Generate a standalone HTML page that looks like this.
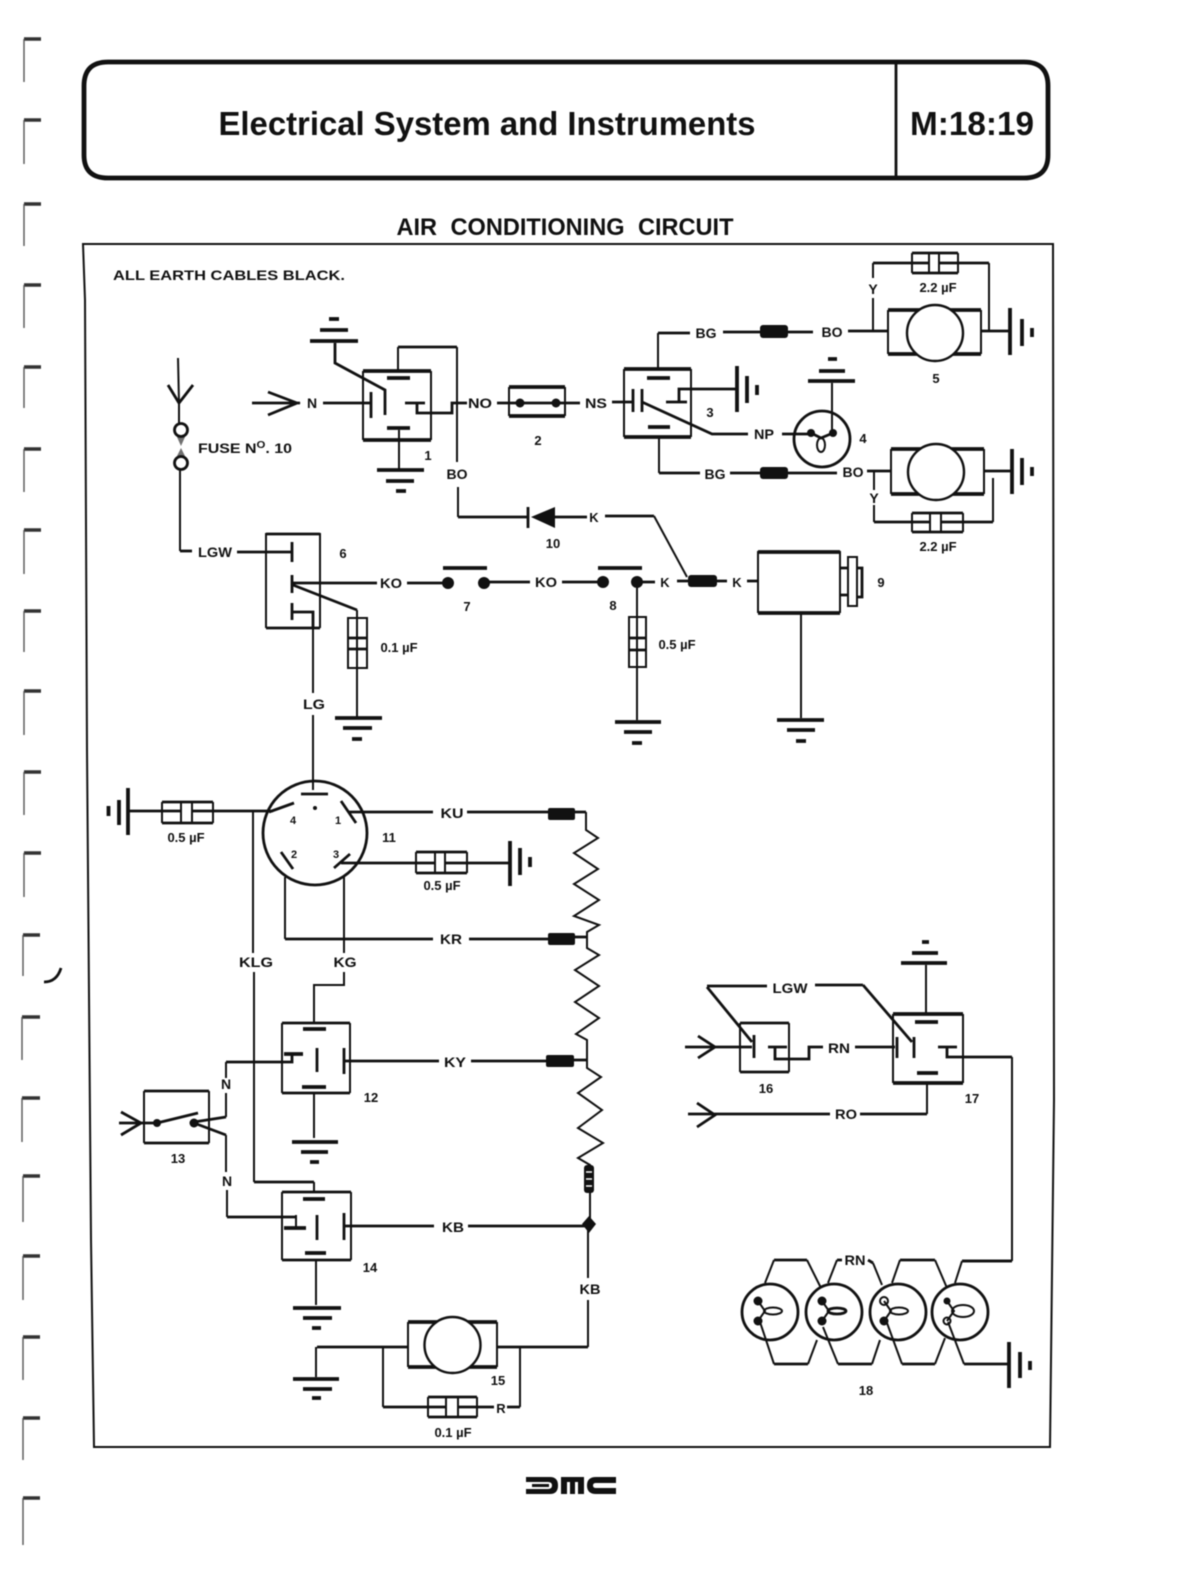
<!DOCTYPE html>
<html><head><meta charset="utf-8"><title>Air Conditioning Circuit</title>
<style>
html,body{margin:0;padding:0;background:#fff}
svg{display:block;filter:blur(.6px)}
text{font-family:"Liberation Sans",sans-serif;font-weight:700;fill:#111;text-anchor:middle;font-size:14px}
.w{fill:none;stroke:#111;stroke-width:2;stroke-linejoin:miter}
.m{fill:none;stroke:#111;stroke-width:2.8}
.t{fill:none;stroke:#111;stroke-width:3.8}
.b{fill:#111;stroke:none}
.g{fill:none;stroke:#555;stroke-width:1.4}
.gb{fill:none;stroke:#333;stroke-width:3.6}
.n{font-size:13px}
.box{fill:#fff;stroke:#111;stroke-width:2}
</style></head><body>
<svg xmlns="http://www.w3.org/2000/svg" width="1204" height="1582" viewBox="0 0 1204 1582">
<rect width="1204" height="1582" fill="#fff"/>

<!-- margin punch marks -->
<g>
<path class="gb" d="M24 39H41M24 120H41M24 204H41M24 285H41M24 367H41M24 449H41M24 530H41M24 611H41M24 691H41M24 772H41M24 853H41M23 935H40M22 1017H40M22 1098H40M23 1176H40M23 1256H40M23 1337H40M23 1418H40M23 1498H40"/>
<path class="g" d="M24 39V82M24 120V164M24 204V246M24 285V328M24 367V408M24 449V492M24 530V574M24 611V652M24 691V735M24 772V815M24 853V897M23 935V976M22 1017V1060M22 1098V1142M23 1176V1222M23 1256V1300M23 1337V1380M23 1418V1460M23 1498V1545"/>
<path class="m" d="M61 968C58 978 52 982 44 982" stroke-width="2"/>
</g>

<!-- header -->
<path d="M108 62H1024Q1048 62 1048 86V155Q1048 178 1024 178H108Q84 178 84 155V86Q84 62 108 62Z" fill="none" stroke="#111" stroke-width="4.8"/>
<path class="m" d="M896 62V178"/>
<text x="487" y="135" style="font-size:33px" textLength="537" lengthAdjust="spacingAndGlyphs">Electrical System and Instruments</text>
<text x="972" y="135" style="font-size:33px" textLength="124" lengthAdjust="spacingAndGlyphs">M:18:19</text>
<text x="565" y="235" style="font-size:24px;word-spacing:7px" textLength="337" lengthAdjust="spacingAndGlyphs">AIR CONDITIONING CIRCUIT</text>

<!-- frame -->
<path class="w" d="M83 244L1053 244L1054 1100L1050 1447L94 1447L91 1240L87 750L85 300Z"/>
<text x="229" y="280" style="font-size:14px" textLength="232" lengthAdjust="spacingAndGlyphs">ALL EARTH CABLES BLACK.</text>

<!-- fuse 10 -->
<path class="w" d="M178 358L179 403M180 470V551"/>
<path class="m" d="M168 385L179 403L193 385"/>
<path class="w" d="M179 403V424"/>
<circle class="m" cx="181" cy="430" r="6.5" fill="#fff"/>
<circle class="m" cx="181" cy="463" r="6.5" fill="#fff"/>
<path class="b" d="M177 437H185L181 446ZM181 448L185 456H177Z" opacity=".6"/>
<path class="m" d="M180 551H192"/>
<text x="215" y="557" textLength="34" lengthAdjust="spacingAndGlyphs">LGW</text>
<text x="245" y="453" textLength="94" lengthAdjust="spacingAndGlyphs">FUSE N<tspan dy="-5" style="font-size:10px">O</tspan><tspan dy="5">. 10</tspan></text>
<path class="m" d="M237 552H292"/>

<!-- arrow N + relay 1 -->
<path class="m" d="M252 403H300M268 392L297 403L268 415M323 403H370"/>
<text x="312" y="408">N</text>
<path class="m" d="M335 343V363L385 390V415" stroke-width="2"/>
<path class="t" d="M310 341H358M320 330H348"/><path class="t" d="M329 319H339"/>
<path class="w" d="M363 440V371M431 371V440"/>
<path class="t" d="M363 371H431M363 440H431"/>
<path class="m" d="M371 392V418M405 403H425M417 403V413H452V403H467"/>
<path class="t" d="M387 378H410M387 428H410"/>
<path class="m" d="M398 347H457"/><path class="w" d="M398 347V371M457 347V462M399 430V470"/>
<path class="t" d="M377 470H424M386 481H414M396 491H406"/>
<text x="428" y="460" class="n">1</text>
<text x="457" y="479">BO</text>
<path class="w" d="M458 487V517"/><path class="m" d="M458 517H528"/>
<path class="m" d="M528 507V528"/><path class="b" d="M531 517L555 507V528Z"/>
<path class="m" d="M555 517H587M605 516H654"/><path class="w" d="M654 516L687 577"/>
<text x="594" y="522" style="font-size:13px">K</text>
<text x="553" y="548" class="n">10</text>
<text x="480" y="408" textLength="24" lengthAdjust="spacingAndGlyphs">NO</text>

<!-- fuse 2 -->
<path class="m" d="M497 403H580"/>
<path class="t" d="M509 387H565" stroke-width="3"/><path class="t" d="M509 416H565" stroke-width="3"/>
<path class="w" d="M509 387V416M565 387V416"/>
<circle class="b" cx="520" cy="403" r="4.5"/><circle class="b" cx="556" cy="403" r="4.5"/>
<text x="538" y="445" class="n">2</text>
<text x="596" y="408" textLength="22" lengthAdjust="spacingAndGlyphs">NS</text>

<!-- relay 3 -->
<path class="w" d="M624 369V437M691 369V437M658 333V368M659 437V473"/>
<path class="t" d="M624 369H691M624 437H691" stroke-width="2.8"/>
<path class="m" d="M612 402H632M633 389V412M642 389V412M642 402L712 434H748M782 434H815M666 402H687M679 402V389H737M658 333H690M723 332H760M788 332H813M848 331H887M659 473H700M730 473H760M788 473H837M867 471H890"/>
<path class="t" d="M647 378H670M648 427H670"/>
<path class="t" d="M737 366V412" stroke-width="2.6"/><path class="t" d="M747 376V403" stroke-width="2.6"/><path class="t" d="M757 385V395"/>
<text x="710" y="417" class="n">3</text>
<text x="706" y="338" textLength="21" lengthAdjust="spacingAndGlyphs">BG</text>
<text x="715" y="479" textLength="21" lengthAdjust="spacingAndGlyphs">BG</text>
<text x="832" y="337" textLength="21" lengthAdjust="spacingAndGlyphs">BO</text>
<text x="853" y="477" textLength="21" lengthAdjust="spacingAndGlyphs">BO</text>
<text x="764" y="439" textLength="20" lengthAdjust="spacingAndGlyphs">NP</text>
<rect class="b" x="760" y="325" width="28" height="13" rx="3"/>
<rect class="b" x="760" y="467" width="28" height="12" rx="3"/>

<!-- lamp 4 -->
<path class="w" d="M832 383V433"/>
<path class="t" d="M808 381H855M819 371H845M828 359H837"/>
<circle class="m" cx="822" cy="439" r="28"/>
<circle class="b" cx="811" cy="433" r="4"/><circle class="b" cx="833" cy="433" r="4"/>
<path class="m" d="M811 433L821 438L833 433"/><ellipse class="w" cx="821" cy="445" rx="4" ry="7"/>
<text x="863" y="443" class="n">4</text>

<!-- motor 5 -->
<path class="w" d="M873 263V278M873 298V331M989 263V331"/>
<text x="873" y="294">Y</text>
<path class="m" d="M873 263H912M958 263H989M981 331H1010"/>
<path class="w" d="M888 310V354M981 310V354"/><path class="t" d="M888 310H981M888 354H981"/>
<circle cx="935" cy="333" r="28" fill="#fff" stroke="#111" stroke-width="2.4"/>
<path class="m" d="M912 253H958M912 273H958" /><path class="w" d="M912 253V273M958 253V273M929 253V273M939 253V273"/><path class="m" d="M912 263H929M939 263H958"/>
<text x="938" y="292" class="n">2.2 µF</text>
<text x="936" y="383" class="n">5</text>
<path class="t" d="M1010 308V355" stroke-width="2.6"/><path class="t" d="M1022 319V346" stroke-width="2.6"/><path class="t" d="M1032 328V337"/>

<!-- motor 5b -->
<path class="w" d="M874 471V490M874 505V522M993 478V522"/>
<text x="874" y="503">Y</text>
<path class="m" d="M874 522H912M963 522H993M984 471H1012"/>
<path class="w" d="M891 449V494M984 449V494"/><path class="t" d="M891 449H984M891 494H984"/>
<circle cx="936" cy="472" r="28" fill="#fff" stroke="#111" stroke-width="2.4"/>
<path class="m" d="M912 513H963M912 532H963" /><path class="w" d="M912 513V532M963 513V532M930 513V532M941 513V532"/><path class="m" d="M912 522H930M941 522H963"/>
<text x="938" y="551" class="n">2.2 µF</text>
<path class="t" d="M1012 449V494" stroke-width="2.6"/><path class="t" d="M1022 458V485" stroke-width="2.6"/><path class="t" d="M1032 467V476"/>

<!-- switch 6 -->
<path class="w" d="M266 533V628M320 533V628"/>
<path class="m" d="M266 534H320M266 628H320M292 542V562M292 575V593M292 603V620M292 612H313V628"/>
<path class="m" d="M292 583H377M407 583H448M293 585L357 610M488 582H530M562 582H598M642 582H655M677 581H688M717 581H727M747 581H758"/>
<path class="w" d="M313 628V693M313 715V790M357 610V618M357 668V717"/>
<text x="343" y="558" class="n">6</text>
<text x="391" y="588" textLength="22" lengthAdjust="spacingAndGlyphs">KO</text>
<text x="546" y="587" textLength="22" lengthAdjust="spacingAndGlyphs">KO</text>
<text x="314" y="709" textLength="22" lengthAdjust="spacingAndGlyphs">LG</text>
<text x="665" y="587" style="font-size:13px">K</text>
<text x="737" y="587" style="font-size:13px">K</text>
<text x="399" y="652" class="n">0.1 µF</text>
<rect class="box" x="348" y="618" width="19" height="50"/><path class="w" d="M357 618V668"/><path class="m" d="M348 638H367M348 649H367"/>
<path class="t" d="M335 718H382M343 728H372M352 739H362"/>
<!-- switches 7,8 -->
<path class="t" d="M443 568H487M598 568H642"/>
<circle class="b" cx="448" cy="583" r="6"/><circle class="b" cx="484" cy="583" r="6"/>
<circle class="b" cx="603" cy="582" r="6"/><circle class="b" cx="637" cy="582" r="6"/>
<text x="467" y="611" class="n">7</text><text x="613" y="610" class="n">8</text>
<path class="w" d="M637 587V617M637 667V720"/>
<rect class="box" x="629" y="617" width="17" height="50"/><path class="w" d="M637 617V667"/><path class="m" d="M629 638H646M629 650H646"/>
<text x="677" y="649" class="n">0.5 µF</text>
<path class="t" d="M615 722H661M624 732H652M632 743H642"/>
<rect class="b" x="688" y="575" width="29" height="12" rx="3"/>
<!-- solenoid 9 -->
<path class="w" d="M758 551V613M840 551V613"/><path class="t" d="M758 552H840M758 613H840"/>
<path class="m" d="M840 568H848M840 595H848M857 568H862V597H857"/>
<rect x="848" y="557" width="9" height="49" fill="#fff" stroke="#111" stroke-width="2"/>
<text x="881" y="587" class="n">9</text>
<path class="w" d="M801 613V718"/>
<path class="t" d="M777 720H824M787 730H815M796 741H806"/>

<!-- ignition 11 -->
<circle class="m" cx="315" cy="833" r="52"/>
<path class="m" d="M301 794H328" stroke-width="3.2"/>
<circle class="b" cx="315" cy="808" r="2"/>
<path class="t" d="M128 788V835" stroke-width="2.6"/><path class="t" d="M119 800V825" stroke-width="2.6"/><path class="t" d="M108.500 806V816"/>
<path class="m" d="M128 811H162M213 811H273M269 812L294 803M341 801L356 823M348 812H433M467 812H548M575 812H586M341 863H416M467 863H510M281 852L293 869M334 868L350 854M285 939H433M469 939H548M575 937H587"/>
<path class="m" d="M162 802H213M162 823H213"/><path class="w" d="M162 802V823M213 802V823M181 802V823M192 802V823"/><path class="m" d="M162 811H181M192 811H213"/>
<text x="186" y="842" class="n">0.5 µF</text>
<path class="m" d="M416 852H467M416 873H467"/><path class="w" d="M416 852V873M467 852V873M435 852V873M445 852V873"/><path class="m" d="M416 863H435M445 863H467"/>
<text x="442" y="890" class="n">0.5 µF</text>
<path class="t" d="M510 841V886" stroke-width="2.6"/><path class="t" d="M520 848V875" stroke-width="2.6"/><path class="t" d="M530 857V867"/>
<text x="293" y="824" style="font-size:11px">4</text><text x="338" y="824" style="font-size:11px">1</text>
<text x="294" y="858" style="font-size:11px">2</text><text x="336" y="858" style="font-size:11px">3</text>
<text x="389" y="842" class="n">11</text>
<text x="452" y="818" textLength="23" lengthAdjust="spacingAndGlyphs">KU</text>
<text x="451" y="944" textLength="22" lengthAdjust="spacingAndGlyphs">KR</text>
<path class="w" d="M285 877V939M344 877V953M344 972V985H314V1022M253 812V953M254 972V1182"/>
<path class="m" d="M254 1182H314"/><path class="w" d="M314 1182V1193"/>
<text x="256" y="967" textLength="34" lengthAdjust="spacingAndGlyphs">KLG</text>
<text x="345" y="967" textLength="23" lengthAdjust="spacingAndGlyphs">KG</text>
<rect class="b" x="548" y="808" width="27" height="12" rx="2"/>
<rect class="b" x="548" y="933" width="27" height="12" rx="2"/>
<rect class="b" x="546" y="1055" width="28" height="12" rx="2"/>
<!-- resistors -->
<path class="w" d="M586 812V830L598 838L574 853L598 869L574 884L599 900L574 916L599 925L587 932V948L599 955L575 970L599 986L575 1002L599 1018L576 1034L587 1040V1068L601 1077L578 1093L602 1110L578 1128L603 1143L578 1158L590 1165V1225M588 1225V1278M588 1300V1347" stroke-width="2"/>
<rect class="b" x="584" y="1165" width="10" height="28" rx="3"/>
<path d="M586 1172H592M586 1179H592M586 1186H592" stroke="#fff" stroke-width="1.6"/>
<path class="b" d="M589 1216L596 1224L589 1233L582 1224Z"/>

<!-- relay 12 -->
<path class="w" d="M282 1023V1093M350 1023V1093M314 1093V1138M226 1062V1078M226 1093V1117"/>
<path class="m" d="M282 1023H350M282 1093H350M317 1048V1072M344 1048V1074M292 1054V1062H226M344 1061H439M471 1061H546M574 1060H587"/>
<path class="t" d="M303 1029H326M302 1087H326M284 1054H303"/>
<text x="371" y="1102" class="n">12</text>
<text x="455" y="1067" textLength="22" lengthAdjust="spacingAndGlyphs">KY</text>
<path class="t" d="M292 1142H338M301 1152H328M310 1162H319"/>
<!-- switch 13 -->
<path class="w" d="M144 1091V1143M209 1091V1143"/>
<path class="m" d="M144 1091H209M144 1143H209M119 1123H157M121 1112L141 1123L121 1135"/>
<path class="m" d="M157 1123L198 1113M194 1122L226 1117M194 1123L226 1135"/>
<circle class="b" cx="157" cy="1123" r="4"/><circle class="b" cx="194" cy="1123" r="4.500"/>
<text x="178" y="1163" class="n">13</text>
<text x="226" y="1089">N</text><text x="227" y="1186">N</text>
<path class="w" d="M226 1135V1172M227 1190V1217"/>
<!-- relay 14 -->
<path class="w" d="M282 1192V1260M351 1192V1260M316 1260V1305M296 1215V1228"/>
<path class="m" d="M282 1192H351M282 1260H351M227 1217H296M317 1215V1240M344 1213V1240M344 1226H434M468 1226H587"/>
<path class="t" d="M303 1199H325M305 1253H326M284 1228H306"/>
<text x="453" y="1232" textLength="22" lengthAdjust="spacingAndGlyphs">KB</text>
<text x="370" y="1272" class="n">14</text>
<path class="t" d="M293 1308H341M303 1318H332M312 1328H321"/>
<text x="590" y="1294" textLength="21" lengthAdjust="spacingAndGlyphs">KB</text>

<!-- motor 15 -->
<path class="m" d="M497 1347H588M317 1347H408M477 1407H494M507 1407H520M383 1407H428"/>
<path class="w" d="M316 1347V1377M383 1347V1407M520 1347V1407M408 1322V1367M497 1322V1367"/>
<path class="t" d="M408 1322H497M408 1367H497"/>
<circle cx="452.500" cy="1345" r="28" fill="#fff" stroke="#111" stroke-width="2.4"/>
<path class="t" d="M293 1379H339M303 1389H332M312 1398H321"/>
<path class="m" d="M428 1397H477M428 1417H477"/><path class="w" d="M428 1397V1417M477 1397V1417M446 1397V1417M458 1397V1417"/><path class="m" d="M428 1407H446M458 1407H477"/>
<text x="501" y="1413" style="font-size:13px">R</text>
<text x="498" y="1385" class="n">15</text>
<text x="453" y="1437" class="n">0.1 µF</text>

<!-- relays 16,17 -->
<path class="m" d="M707 986H767M815 985H863M707 987L752 1042M863 985L912 1042M685 1047H752M698 1036L715 1047L698 1058M754 1035V1058M768 1047H787M775 1047V1059H809V1047H823M855 1047H895M740 1023H789M740 1072H789M897 1037V1058M914 1037V1058M938 1047H957M947 1047V1057H1012M962 1261H1012M927 1114H860M688 1114H830M697 1103L715 1115L697 1127" stroke-width="2.2"/>
<path class="w" d="M740 1023V1072M789 1023V1072M893 1014V1083M963 1014V1083M926 965V1013M927 1083V1114M1012 1057V1261"/>
<path class="t" d="M893 1014H963M893 1083H963" stroke-width="2.8"/>
<path class="t" d="M915 1022H938M917 1073H938M901 963H947M912 953H938M922 942H929"/>
<text x="790" y="993" textLength="35" lengthAdjust="spacingAndGlyphs">LGW</text>
<text x="839" y="1053" textLength="22" lengthAdjust="spacingAndGlyphs">RN</text>
<text x="846" y="1119" textLength="22" lengthAdjust="spacingAndGlyphs">RO</text>
<text x="766" y="1093" class="n">16</text>
<text x="972" y="1103" class="n">17</text>

<!-- lamps 18 -->
<g class="w" stroke-width="2">
<path class="w" d="M765 1283L774 1260M807 1260L821 1288M828 1283L837 1260M873 1263L882 1285M892 1283L900 1260M935 1260L947 1288M955 1283L962 1261M760 1322L774 1364M808 1364L817 1340M823 1327L838 1364M872 1364L880 1340M887 1323L902 1364M935 1364L945 1338M948 1322L964 1364"/>
<path class="m" d="M774 1260H807M837 1260H842M868 1260L873 1263M900 1260H935M962 1261H1012M774 1364H808M838 1364H872M902 1364H935M964 1364H1009" stroke-width="2.2"/>
<circle class="m" cx="770" cy="1312" r="28"/><circle class="m" cx="834" cy="1312" r="28"/><circle class="m" cx="898" cy="1312" r="28"/><circle class="m" cx="960" cy="1312" r="28"/>
<path class="w" d="M758 1301L765 1311L758 1321M822 1301L829 1311L822 1321M884 1301L891 1311L884 1321M947 1301L954 1311L947 1321"/>
<ellipse class="w" cx="773" cy="1311" rx="9" ry="3.500"/><ellipse class="m" cx="837" cy="1311" rx="9" ry="3" stroke-width="2.500"/><ellipse class="w" cx="899" cy="1311" rx="9" ry="3.500"/><ellipse class="w" cx="963" cy="1311" rx="11" ry="6"/>
</g>
<g class="b">
<circle cx="758" cy="1301" r="4.500"/><circle cx="758" cy="1321" r="4.500"/>
<circle cx="822" cy="1301" r="4.500"/><circle cx="822" cy="1321" r="4.500"/>
<circle cx="884" cy="1321" r="4.500"/><circle cx="947" cy="1301" r="3.500"/>
</g>
<circle class="w" cx="884" cy="1301" r="4"/><circle class="w" cx="947" cy="1321" r="3.500"/>
<text x="855" y="1265" textLength="21" lengthAdjust="spacingAndGlyphs">RN</text>
<text x="866" y="1395" class="n">18</text>
<path class="t" d="M1009 1342V1388" stroke-width="2.6"/><path class="t" d="M1020 1352V1378" stroke-width="2.6"/><path class="t" d="M1030 1361V1370"/>

<!-- DMC logo -->
<path class="b" fill-rule="evenodd" d="M526 1477H550Q558 1477 558 1485.500Q558 1494 550 1494H526V1489H548Q552 1489 552 1485.500Q552 1482 548 1482H526Z M532 1484H549V1487H532Z"/>
<path class="b" d="M561 1477H584V1494H578V1482H575V1494H570V1482H567V1494H561Z"/>
<path class="b" d="M587 1477H616V1483H596Q593 1483 593 1485.500Q593 1488 596 1488H616V1494H596Q587 1494 587 1485.500Q587 1477 596 1477Z"/>
</svg>
</body></html>
